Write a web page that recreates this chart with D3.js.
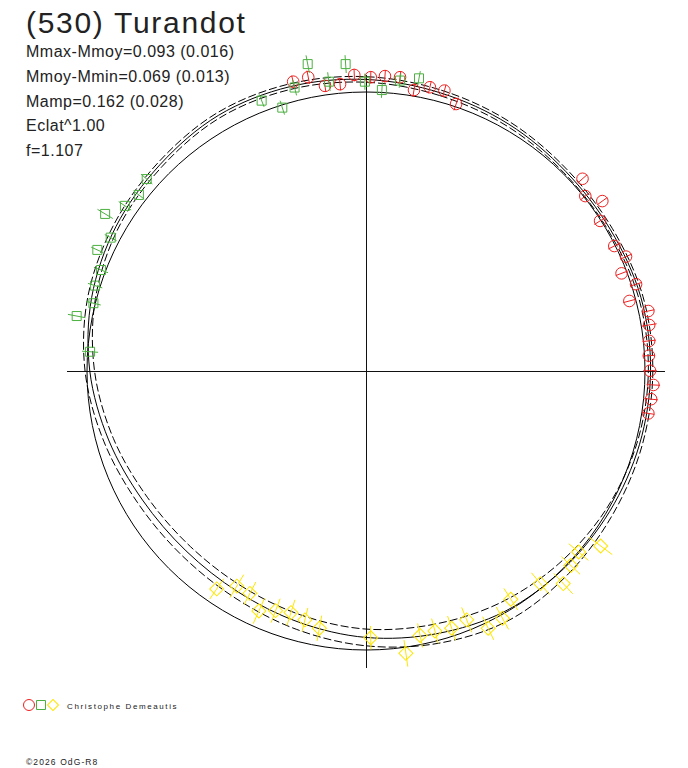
<!DOCTYPE html>
<html>
<head>
<meta charset="utf-8">
<script src="https://cdn.jsdelivr.net/npm/d3@7"></script>
<style>
  body { margin: 0; background: #fff; }
  text { font-family: "Liberation Sans", Arial, sans-serif; fill: #222; }
</style>
</head>
<body>
<div id="chart"></div>
<script>
// polar lightcurve: unit radius = reference circle

var title = "(530) Turandot";
var infoLines = ["Mmax-Mmoy=0.093 (0.016)", "Mmoy-Mmin=0.069 (0.013)", "Mamp=0.162 (0.028)", "Eclat^1.00", "f=1.107"];
var observer = "Christophe Demeautis";
var copyright = "\u00a92026 OdG-R8";

// model curve, sampled every 15 deg of phase (0 = up, clockwise)
var modelPhase = [0, 15, 30, 45, 60, 75, 90, 105, 120, 135, 150, 165, 180, 195, 210, 225, 240, 255, 270, 285, 300, 315, 330, 345];
var modelR = [1.045, 1.032, 1.022, 1.012, 1.012, 1.020, 1.020, 1.015, 1.008, 1.002, 0.995, 0.975, 0.955, 0.932, 0.915, 0.912, 0.925, 0.955, 0.990, 1.018, 1.035, 1.045, 1.058, 1.055];
var upperR = [1.055, 1.042, 1.031, 1.020, 1.020, 1.028, 1.028, 1.025, 1.023, 1.027, 1.030, 1.010, 0.985, 0.959, 0.939, 0.934, 0.945, 0.973, 1.007, 1.032, 1.045, 1.055, 1.068, 1.065];
var lowerR = [1.035, 1.022, 1.013, 1.004, 1.004, 1.012, 1.012, 1.005, 0.993, 0.977, 0.960, 0.940, 0.925, 0.905, 0.891, 0.890, 0.905, 0.937, 0.973, 1.004, 1.025, 1.035, 1.048, 1.045];

// observations (x, y in units of the reference circle) with radial errors
var redX = [-0.261, -0.207, -0.147, -0.093, -0.042, 0.017, 0.068, 0.122, 0.172, 0.229, 0.281, 0.323, 0.776, 0.786, 0.847, 0.839, 0.890, 0.932, 0.916, 0.968, 0.944, 1.012, 1.015, 1.015, 1.014, 1.018, 1.030, 1.022, 1.012];
var redY = [1.037, 1.053, 1.022, 1.028, 1.061, 1.053, 1.057, 1.053, 1.007, 1.017, 1.005, 0.957, 0.689, 0.627, 0.609, 0.538, 0.448, 0.410, 0.350, 0.311, 0.251, 0.215, 0.165, 0.108, 0.055, 0.001, -0.050, -0.101, -0.152];
var redErr = [0.022, 0.024, 0.022, 0.022, 0.022, 0.022, 0.022, 0.022, 0.024, 0.022, 0.022, 0.024, 0.022, 0.022, 0.022, 0.024, 0.024, 0.022, 0.022, 0.022, 0.022, 0.022, 0.027, 0.024, 0.022, 0.024, 0.024, 0.024, 0.022];

var greenX = [-0.374, -0.300, -0.256, -0.209, -0.133, -0.073, -0.004, 0.057, 0.122, 0.190, -0.786, -0.814, -0.864, -0.935, -0.915, -0.963, -0.950, -0.971, -0.977, -1.037, -0.989];
var greenY = [0.969, 0.944, 1.016, 1.100, 1.037, 1.100, 1.037, 1.007, 1.041, 1.049, 0.688, 0.631, 0.592, 0.563, 0.478, 0.434, 0.362, 0.306, 0.243, 0.197, 0.069];
var greenErr = [0.024, 0.026, 0.029, 0.032, 0.034, 0.032, 0.029, 0.028, 0.026, 0.026, 0.027, 0.024, 0.027, 0.032, 0.024, 0.024, 0.027, 0.027, 0.027, 0.032, 0.029];

var yellowX = [-0.535, -0.463, -0.416, -0.384, -0.324, -0.269, -0.219, -0.167, 0.017, 0.143, 0.194, 0.247, 0.307, 0.361, 0.438, 0.489, 0.519, 0.625, 0.707, 0.734, 0.762, 0.841];
var yellowY = [-0.781, -0.771, -0.797, -0.860, -0.859, -0.866, -0.892, -0.922, -0.956, -1.012, -0.948, -0.932, -0.922, -0.892, -0.922, -0.886, -0.818, -0.762, -0.762, -0.697, -0.649, -0.627];
var yellowErr = [0.044, 0.048, 0.046, 0.050, 0.046, 0.048, 0.044, 0.046, 0.042, 0.048, 0.044, 0.046, 0.046, 0.048, 0.046, 0.046, 0.046, 0.050, 0.050, 0.046, 0.046, 0.052];

var svgWidth = 688;
var svgHeight = 768;
var cx = 366, cy = 371, R = 279;

var svg = d3.select("#chart")
  .append("svg")
  .attr("width", svgWidth)
  .attr("height", svgHeight);

var xScale = d3.scaleLinear().domain([-1, 1]).range([cx - R, cx + R]);
var yScale = d3.scaleLinear().domain([-1, 1]).range([cy + R, cy - R]);
var rScale = d3.scaleLinear().domain([0, 1]).range([0, R]);

// axes through the origin
var plot = svg.append("g");
plot.append("line")
  .attr("x1", xScale(-1.072)).attr("x2", xScale(1.072))
  .attr("y1", yScale(0)).attr("y2", yScale(0))
  .attr("stroke", "#111").attr("shape-rendering", "crispEdges");
plot.append("line")
  .attr("x1", xScale(0)).attr("x2", xScale(0))
  .attr("y1", yScale(1.061)).attr("y2", yScale(-1.065))
  .attr("stroke", "#111").attr("shape-rendering", "crispEdges");

// reference circle
plot.append("circle")
  .attr("cx", xScale(0)).attr("cy", yScale(0))
  .attr("r", rScale(1))
  .attr("fill", "none").attr("stroke", "#000");

var radial = d3.lineRadial()
  .angle(d => d[0] * Math.PI / 180)
  .radius(d => rScale(d[1]))
  .curve(d3.curveCatmullRomClosed);

var curveG = plot.append("g").attr("transform", `translate(${xScale(0)}, ${yScale(0)})`);
curveG.append("path")
  .attr("d", radial(d3.zip(modelPhase, modelR)))
  .attr("fill", "none").attr("stroke", "#000");
[upperR, lowerR].forEach(function(rs) {
  curveG.append("path")
    .attr("d", radial(d3.zip(modelPhase, rs)))
    .attr("fill", "none").attr("stroke", "#000")
    .attr("stroke-dasharray", "8,3");
});

// data series
function series(xs, ys, errs, color, kind) {
  var pts = xs.map((x, i) => ({x: x, y: ys[i], e: errs[i]}));
  var g = plot.append("g");
  g.selectAll("line.err")
    .data(pts)
    .enter()
    .append("line")
    .attr("class", "err")
    .each(function(d) {
      var len = Math.sqrt(d.x * d.x + d.y * d.y);
      var ux = d.x / len, uy = d.y / len;
      d3.select(this)
        .attr("x1", xScale(d.x - d.e * ux)).attr("y1", yScale(d.y - d.e * uy))
        .attr("x2", xScale(d.x + d.e * ux)).attr("y2", yScale(d.y + d.e * uy));
    })
    .attr("stroke", color);
  if (kind === "circle") {
    g.selectAll("circle")
      .data(pts)
      .enter()
      .append("circle")
      .attr("cx", d => xScale(d.x))
      .attr("cy", d => yScale(d.y))
      .attr("r", 5.8)
      .attr("fill", "none")
      .attr("stroke", color);
  } else {
    var sym = d3.symbol().type(d3.symbolSquare).size(kind === "square" ? 81 : 98);
    g.selectAll("path")
      .data(pts)
      .enter()
      .append("path")
      .attr("d", sym())
      .attr("transform", d => `translate(${xScale(d.x)}, ${yScale(d.y)})` + (kind === "diamond" ? " rotate(45)" : ""))
      .attr("fill", "none")
      .attr("stroke", color);
  }
}

series(redX, redY, redErr, "#ee2020", "circle");
series(greenX, greenY, greenErr, "#4cb040", "square");
series(yellowX, yellowY, yellowErr, "#ffe600", "diamond");

// header texts
svg.append("text")
  .attr("x", 26).attr("y", 33)
  .style("font-size", "30px")
  .style("letter-spacing", "1.7px")
  .text(title);

svg.selectAll("text.info")
  .data(infoLines)
  .enter()
  .append("text")
  .attr("class", "info")
  .attr("x", 26)
  .attr("y", (d, i) => 57 + i * 24.8)
  .style("font-size", "16px")
  .style("letter-spacing", "0.5px")
  .text(d => d);

// legend
var legend = svg.append("g").attr("transform", "translate(0, 705)");
legend.append("circle").attr("cx", 29).attr("cy", 0).attr("r", 5.5)
  .attr("fill", "none").attr("stroke", "#ee2020");
legend.append("path").attr("d", d3.symbol().type(d3.symbolSquare).size(81)())
  .attr("transform", "translate(41, 0)")
  .attr("fill", "none").attr("stroke", "#4cb040");
legend.append("path").attr("d", d3.symbol().type(d3.symbolSquare).size(60)())
  .attr("transform", "translate(53, 0) rotate(45)")
  .attr("fill", "none").attr("stroke", "#ffe600");
legend.append("text")
  .attr("x", 67).attr("y", 3.5)
  .style("font-size", "8px")
  .style("letter-spacing", "1.6px")
  .text(observer);

svg.append("text")
  .attr("x", 26).attr("y", 765)
  .style("font-size", "8.5px")
  .style("letter-spacing", "1.1px")
  .text(copyright);
</script>
</body>
</html>
